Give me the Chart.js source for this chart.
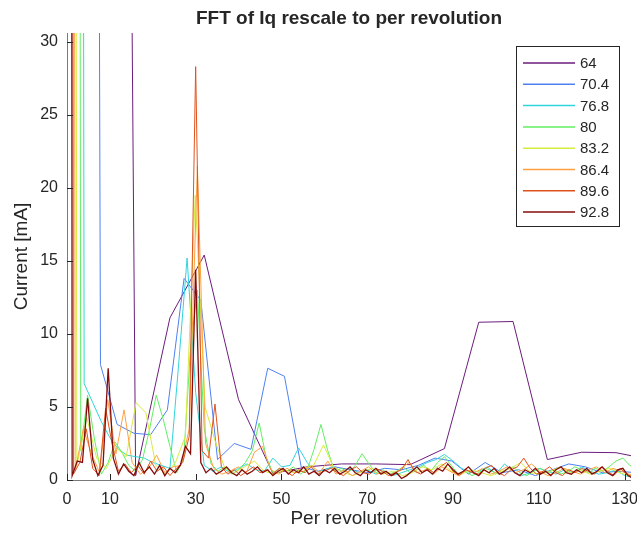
<!DOCTYPE html>
<html lang="en">
  <head>
    <meta charset="UTF-8" />
    <title>FFT of Iq</title>
    <script src="https://cdn.jsdelivr.net/npm/chart.js"></script>
    <style>
      html, body { margin: 0; padding: 0; background: #fff; }
      #wrap { width: 637px; height: 536px; }
    </style>
  </head>
  <body>
    <div id="wrap">
      <canvas id="fftChart" width="637" height="536"></canvas>
    </div>

<script>
  // legend names (speed) and FFT bin width in "per revolution" units
  const speeds = ["64", "70.4", "76.8", "80", "83.2", "86.4", "89.6", "92.8"];
  const binSteps = [8, 3.9, 2, 1.6, 2.3, 1.9, 1.5, 1.2];

  const xTickVals = [0, 10, 30, 50, 70, 90, 110, 130];
  const yTickVals = [0, 5, 10, 15, 20, 25, 30];

  // current amplitude [mA] per bin
  const iq64 = [400, 300, 0.3, 11.1, 15.4, 5.5, 0.45, 0.9, 1.1, 1.1, 1.05, 2.15, 10.8, 10.85, 1.4, 1.9, 1.87, 1.4];

  const iq704 = [500, 400, 7.9, 3.8, 3.2, 3.1, 4.8, 13.8, 12.3, 1.4, 2.5, 2.1, 7.65, 7.1, 0.9, 0.6, 0.9, 0.7,
    0.5, 0.8, 0.7, 1.0, 1.5, 1.3, 0.4, 1.2, 0.5, 0.7, 0.3, 0.7, 1.1, 0.9, 0.5, 0.6, 0.5];

  const iq768 = [500, 400, 6.6, 5.3, 4.0, 2.9, 2.1, 1.7, 1.6, 1.5, 1.2, 1.0, 0.8, 7.8, 15.2, 6.0, 1.0, 0.6,
    0.9, 0.5, 0.8, 1.1, 0.7, 0.6, 1.5, 0.9, 1.0, 2.2, 1.2, 0.5, 0.7, 0.9, 0.6, 0.8, 0.5, 0.7, 0.4, 0.6,
    0.3, 0.5, 0.7, 0.9, 1.2, 1.4, 1.75, 1.3, 0.8, 0.5, 0.6, 0.9, 0.4, 1.1, 0.6, 0.3, 0.5, 0.8, 0.6, 0.4,
    0.7, 0.5, 0.9, 0.6, 0.4, 0.5, 0.7, 0.3, 0.2];

  const iq80 = [500, 400, 2.0, 5.8, 2.8, 0.4, 1.2, 2.6, 1.9, 1.0, 0.6, 1.4, 3.4, 5.8, 4.2, 2.3, 0.5, 1.5,
    9.0, 13.0, 3.5, 1.1, 0.6, 0.9, 0.4, 0.7, 1.2, 2.0, 3.9, 1.6, 0.5, 0.8, 0.6, 0.9, 0.4, 0.7, 2.1, 3.8,
    2.0, 0.6, 0.8, 0.5, 1.0, 1.8, 1.1, 0.5, 0.7, 0.4, 0.6, 0.9, 0.5, 0.7, 1.0, 0.6, 1.2, 1.6, 1.0, 0.4,
    0.6, 0.3, 0.5, 0.8, 0.6, 0.4, 0.7, 0.9, 0.5, 0.3, 0.6, 0.8, 0.5, 0.7, 0.4, 0.6, 0.9, 0.7, 0.5, 0.8,
    0.6, 0.9, 1.3, 1.5, 1.0, 0.8];

  const iq832 = [500, 1.0, 4.3, 1.5, 0.8, 2.2, 1.6, 5.3, 4.6, 1.0, 0.4, 1.2, 3.0, 19.5, 5.0, 2.7, 0.8, 0.5,
    0.9, 1.3, 0.6, 0.4, 0.7, 0.5, 0.8, 1.0, 2.4, 0.9, 0.5, 0.3, 0.6, 0.8, 0.4, 0.6, 0.3, 0.5, 0.9, 0.7,
    1.1, 0.6, 0.4, 0.7, 0.5, 0.3, 0.6, 0.8, 1.2, 0.5, 0.4, 0.6, 0.9, 0.5, 0.7, 0.4, 0.6, 0.8, 0.5, 0.3, 0.4];

  const iq864 = [500, 0.6, 3.5, 1.8, 0.5, 5.5, 1.8, 4.8, 1.2, 0.4, 0.8, 1.7, 0.5, 0.9, 1.0, 3.5, 21.5, 2.5,
    0.8, 0.4, 0.6, 0.9, 0.5, 1.9, 2.3, 0.7, 0.4, 0.8, 0.5, 0.6, 1.0, 0.5, 1.3, 0.4, 0.7, 0.3, 0.6, 0.9,
    0.4, 0.6, 0.3, 0.8, 1.2, 0.5, 0.7, 0.4, 0.9, 0.6, 0.3, 0.7, 0.5, 0.8, 0.4, 0.6, 0.9, 0.5, 0.7, 1.1,
    0.6, 0.3, 0.5, 0.8, 0.6, 0.4, 0.7, 0.9, 0.5, 0.8, 0.6, 0.4, 0.3];

  const iq896 = [500, 0.4, 1.2, 3.5, 0.8, 0.3, 4.9, 2.5, 0.6, 1.1, 0.5, 1.0, 0.4, 1.3, 0.6, 0.9, 0.3, 0.8,
    1.2, 3.0, 28.3, 2.0, 1.5, 5.2, 0.9, 0.4, 0.7, 0.3, 0.6, 0.9, 0.5, 0.7, 0.4, 0.8, 0.6, 0.3, 0.7, 0.5,
    0.9, 0.4, 0.6, 0.8, 0.5, 0.3, 0.7, 0.9, 0.5, 0.4, 0.8, 0.6, 0.3, 0.5, 0.7, 1.4, 0.6, 0.4, 0.8, 0.5,
    0.9, 1.2, 0.6, 0.3, 0.7, 0.5, 0.4, 0.8, 1.0, 0.5, 0.3, 0.7, 0.9, 1.5, 0.8, 0.4, 0.6, 0.9, 0.5, 0.3,
    0.7, 0.5, 0.8, 0.6, 0.4, 0.9, 0.6, 0.3, 0.8, 0.4, 0.2];

  const iq928 = [500, 0.3, 1.3, 1.2, 5.6, 1.4, 0.3, 1.0, 7.65, 1.5, 0.4, 1.1, 0.6, 0.3, 1.2, 0.5, 0.9, 0.4,
    1.0, 0.3, 0.8, 0.5, 1.0, 2.3, 1.8, 14.4, 1.2, 0.5, 0.8, 0.4, 0.6, 0.9, 0.5, 0.3, 0.7, 0.4, 0.6, 0.9,
    0.5, 0.7, 0.3, 0.6, 0.8, 0.4, 0.7, 0.5, 0.9, 0.4, 0.6, 0.3, 0.7, 0.5, 0.8, 0.4, 0.6, 0.9, 0.5, 0.3,
    0.7, 0.5, 0.8, 0.4, 0.6, 0.3, 0.5, 0.1, 0.3, 0.6, 0.9, 0.5, 0.7, 0.4, 0.8, 0.6, 1.1, 0.7, 0.4, 0.6,
    0.9, 0.5, 0.3, 0.7, 0.5, 0.8, 0.4, 0.6, 0.9, 0.5, 0.3, 0.7, 0.5, 0.8, 0.4, 0.6, 0.3, 0.7, 0.9, 0.5,
    0.4, 0.7, 0.5, 0.8, 0.4, 0.6, 0.9, 0.5, 0.3, 0.7, 0.8, 0.3, 0.1];

  const series = [iq64, iq704, iq768, iq80, iq832, iq864, iq896, iq928];

  const lineColors = ["#6b1d7c", "#4f80f0", "#30d5dc", "#62ef62", "#d6ec40", "#ffa040", "#e0521c", "#840c0c"];
  const textColor = "#262626";
  const fontFamily = "'Liberation Sans', Arial, sans-serif";

  const datasets = series.map((vals, i) => ({
    label: speeds[i],
    data: vals.map((v, k) => ({ x: k * binSteps[i], y: v })),
    borderColor: lineColors[i],
    backgroundColor: lineColors[i],
    borderWidth: i === 7 ? 1.3 : 1,
    pointRadius: 0,
    tension: 0,
    fill: false,
    order: 7 - i, // last speed on top, like the original
  }));

  // title, axis labels, axis lines, inward ticks and the boxed legend
  const matlabLook = {
    id: "matlabLook",
    afterDatasetsDraw(chart) {
      const { ctx, chartArea: a, scales } = chart;
      ctx.save();
      ctx.strokeStyle = "#7a7a7a";
      ctx.lineWidth = 1;
      ctx.beginPath();
      ctx.moveTo(a.left + 0.5, a.top);
      ctx.lineTo(a.left + 0.5, a.bottom + 0.5);
      ctx.lineTo(a.right, a.bottom + 0.5);
      ctx.stroke();

      ctx.strokeStyle = textColor;
      ctx.beginPath();
      yTickVals.forEach((v) => {
        const y = Math.round(scales.y.getPixelForValue(v)) + 0.5;
        ctx.moveTo(a.left, y);
        ctx.lineTo(a.left + 6, y);
      });
      xTickVals.forEach((v) => {
        const x = Math.round(scales.x.getPixelForValue(v)) + 0.5;
        ctx.moveTo(x, a.bottom);
        ctx.lineTo(x, a.bottom - 6);
      });
      ctx.stroke();
      ctx.restore();
    },
    afterDraw(chart) {
      const { ctx, chartArea: a } = chart;
      ctx.save();
      ctx.fillStyle = textColor;
      ctx.textAlign = "center";
      ctx.textBaseline = "middle";
      ctx.font = "bold 19px " + fontFamily;
      ctx.fillText("FFT of Iq rescale to per revolution", (a.left + a.right) / 2, 19);

      ctx.font = "19px " + fontFamily;
      ctx.fillText("Per revolution", (a.left + a.right) / 2, 519);
      ctx.translate(22, (a.top + a.bottom) / 2);
      ctx.rotate(-Math.PI / 2);
      ctx.fillText("Current [mA]", 0, 0);
      ctx.restore();

      // legend box
      ctx.save();
      const bx = 516, by = 46, bw = 103, bh = 180;
      ctx.fillStyle = "#fff";
      ctx.fillRect(bx, by, bw, bh);
      ctx.strokeStyle = "#262626";
      ctx.lineWidth = 1;
      ctx.strokeRect(bx + 0.5, by + 0.5, bw, bh);
      ctx.font = "15px " + fontFamily;
      ctx.textAlign = "left";
      ctx.textBaseline = "middle";
      speeds.forEach((name, i) => {
        const y = 63 + i * 21.3;
        ctx.strokeStyle = lineColors[i];
        ctx.lineWidth = 1.5;
        ctx.beginPath();
        ctx.moveTo(523, y);
        ctx.lineTo(575, y);
        ctx.stroke();
        ctx.fillStyle = textColor;
        ctx.fillText(name, 580, y + 1);
      });
      ctx.restore();
    },
  };

  const ctxFft = document.getElementById("fftChart").getContext("2d");

  const configFft = {
    type: "line",
    data: { datasets: datasets },
    options: {
      responsive: false,
      animation: false,
      layout: { padding: { top: 33, right: 6, bottom: 0, left: 0 } },
      plugins: {
        legend: { display: false },
        title: { display: false },
        tooltip: { enabled: false },
      },
      scales: {
        x: {
          type: "linear",
          min: 0,
          max: 131.5,
          grid: { display: false, drawTicks: false },
          border: { display: false },
          afterBuildTicks: (s) => { s.ticks = xTickVals.map((v) => ({ value: v })); },
          afterFit: (s) => { s.height = 56; s.paddingLeft = 0; s.paddingRight = 0; },
          ticks: {
            autoSkip: false,
            maxRotation: 0,
            padding: 10,
            color: textColor,
            font: { family: fontFamily, size: 16 },
          },
        },
        y: {
          min: 0,
          max: 30.6,
          grid: { display: false, drawTicks: false },
          border: { display: false },
          afterBuildTicks: (s) => { s.ticks = yTickVals.map((v) => ({ value: v })); },
          afterFit: (s) => { s.width = 67; s.paddingTop = 0; s.paddingBottom = 0; },
          ticks: {
            padding: 9,
            color: textColor,
            font: { family: fontFamily, size: 16 },
          },
        },
      },
    },
    plugins: [matlabLook],
  };

  const fftChart = new Chart(ctxFft, configFft);
</script>
  </body>
</html>
